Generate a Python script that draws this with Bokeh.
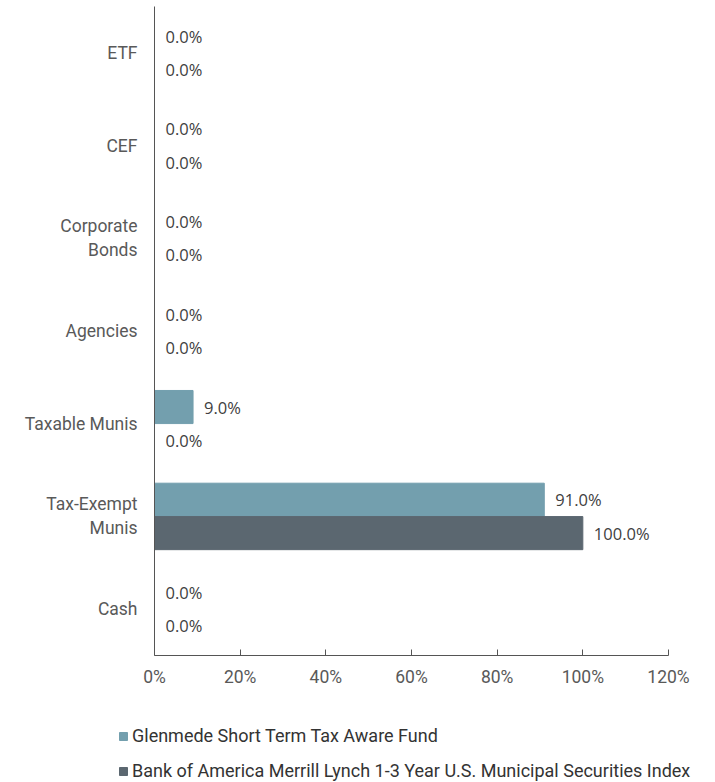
from bokeh.plotting import figure
from bokeh.models import ColumnDataSource, FixedTicker, Range1d, Legend, LegendItem, LinearAxis
from bokeh.core.properties import value
from bokeh.embed import file_html
from bokeh.resources import INLINE

categories = ["ETF", "CEF", "Corporate\nBonds", "Agencies", "Taxable Munis", "Tax-Exempt\nMunis", "Cash"]
fund_values = [0.0, 0.0, 0.0, 0.0, 9.0, 91.0, 0.0]
index_values = [0.0, 0.0, 0.0, 0.0, 0.0, 100.0, 0.0]
x_ticks = [0, 20, 40, 60, 80, 100, 120]
series_names = ["Glenmede Short Term Tax Aware Fund",
                "Bank of America Merrill Lynch 1-3 Year U.S. Municipal Securities Index"]
colors = ["#739fae", "#5b6770"]

n = len(categories)
centers = [n - i - 0.5 for i in range(n)]
off = 0.18
bar_h = 0.357

# page layout (pixels)
W, H = 715, 782
plot_left, plot_right, plot_top, plot_bottom = 154, 668, 6, 655
x_max = x_ticks[-1]
sx = (plot_right - plot_left) / x_max
sy = (plot_bottom - plot_top) / n
x_range = Range1d(-plot_left / sx, x_max + (W - plot_right) / sx)
y_range = Range1d(-(H - plot_bottom) / sy, n + plot_top / sy)

fund_src = ColumnDataSource(dict(
    y=[c + off for c in centers], v=fund_values,
    lab=["%.1f%%" % v for v in fund_values]))
idx_src = ColumnDataSource(dict(
    y=[c - off for c in centers], v=index_values,
    lab=["%.1f%%" % v for v in index_values]))

p = figure(width=W, height=H, output_backend="svg", toolbar_location=None,
           x_range=x_range, y_range=y_range, x_axis_type=None, y_axis_type=None,
           min_border=0, min_border_left=0, min_border_right=0,
           min_border_top=0, min_border_bottom=0)
p.outline_line_color = None
p.grid.visible = False

r1 = p.hbar(y="y", right="v", left=0, height=bar_h, color=colors[0], source=fund_src)
r2 = p.hbar(y="y", right="v", left=0, height=bar_h, color=colors[1], source=idx_src)

for src in (fund_src, idx_src):
    p.text(x="v", y="y", text="lab", source=src, x_offset=11,
           text_baseline="middle", text_align="left",
           text_font=value("Open Sans"), text_font_size="16.5px", text_color="#404040")

# x axis
xa = LinearAxis(fixed_location=0, bounds=(0, x_max))
xa.ticker = FixedTicker(ticks=x_ticks)
xa.major_label_overrides = {t: "%d%%" % t for t in x_ticks}
xa.major_tick_in = 6
xa.major_tick_out = 0
xa.minor_tick_line_color = None
xa.axis_line_color = "#555555"
xa.major_tick_line_color = "#555555"
xa.major_label_text_font = "Roboto"
xa.major_label_text_font_size = "17.5px"
xa.major_label_text_color = "#595959"
xa.major_label_standoff = 11
p.add_layout(xa, "below")

# y axis
ya = LinearAxis(fixed_location=0, bounds=(0, n))
ya.ticker = FixedTicker(ticks=centers)
ya.major_label_overrides = {c: cat for c, cat in zip(centers, categories)}
ya.major_tick_line_color = None
ya.minor_tick_line_color = None
ya.axis_line_color = "#555555"
ya.major_label_text_font = "Roboto"
ya.major_label_text_font_size = "17.5px"
ya.major_label_text_color = "#595959"
ya.major_label_text_align = "center"
ya.major_label_standoff = 11
p.add_layout(ya, "left")

legend = Legend(items=[LegendItem(label=series_names[0], renderers=[r1]),
                       LegendItem(label=series_names[1], renderers=[r2])],
                orientation="vertical", location=(118, 1),
                glyph_width=10, glyph_height=10, label_standoff=4,
                label_text_font="Roboto", label_text_font_size="18px",
                label_text_color="#333333", label_height=20, spacing=14,
                padding=0, margin=0, border_line_alpha=0, background_fill_alpha=0)
p.add_layout(legend, "center")

open("out.html", "w").write(file_html(p, INLINE))
